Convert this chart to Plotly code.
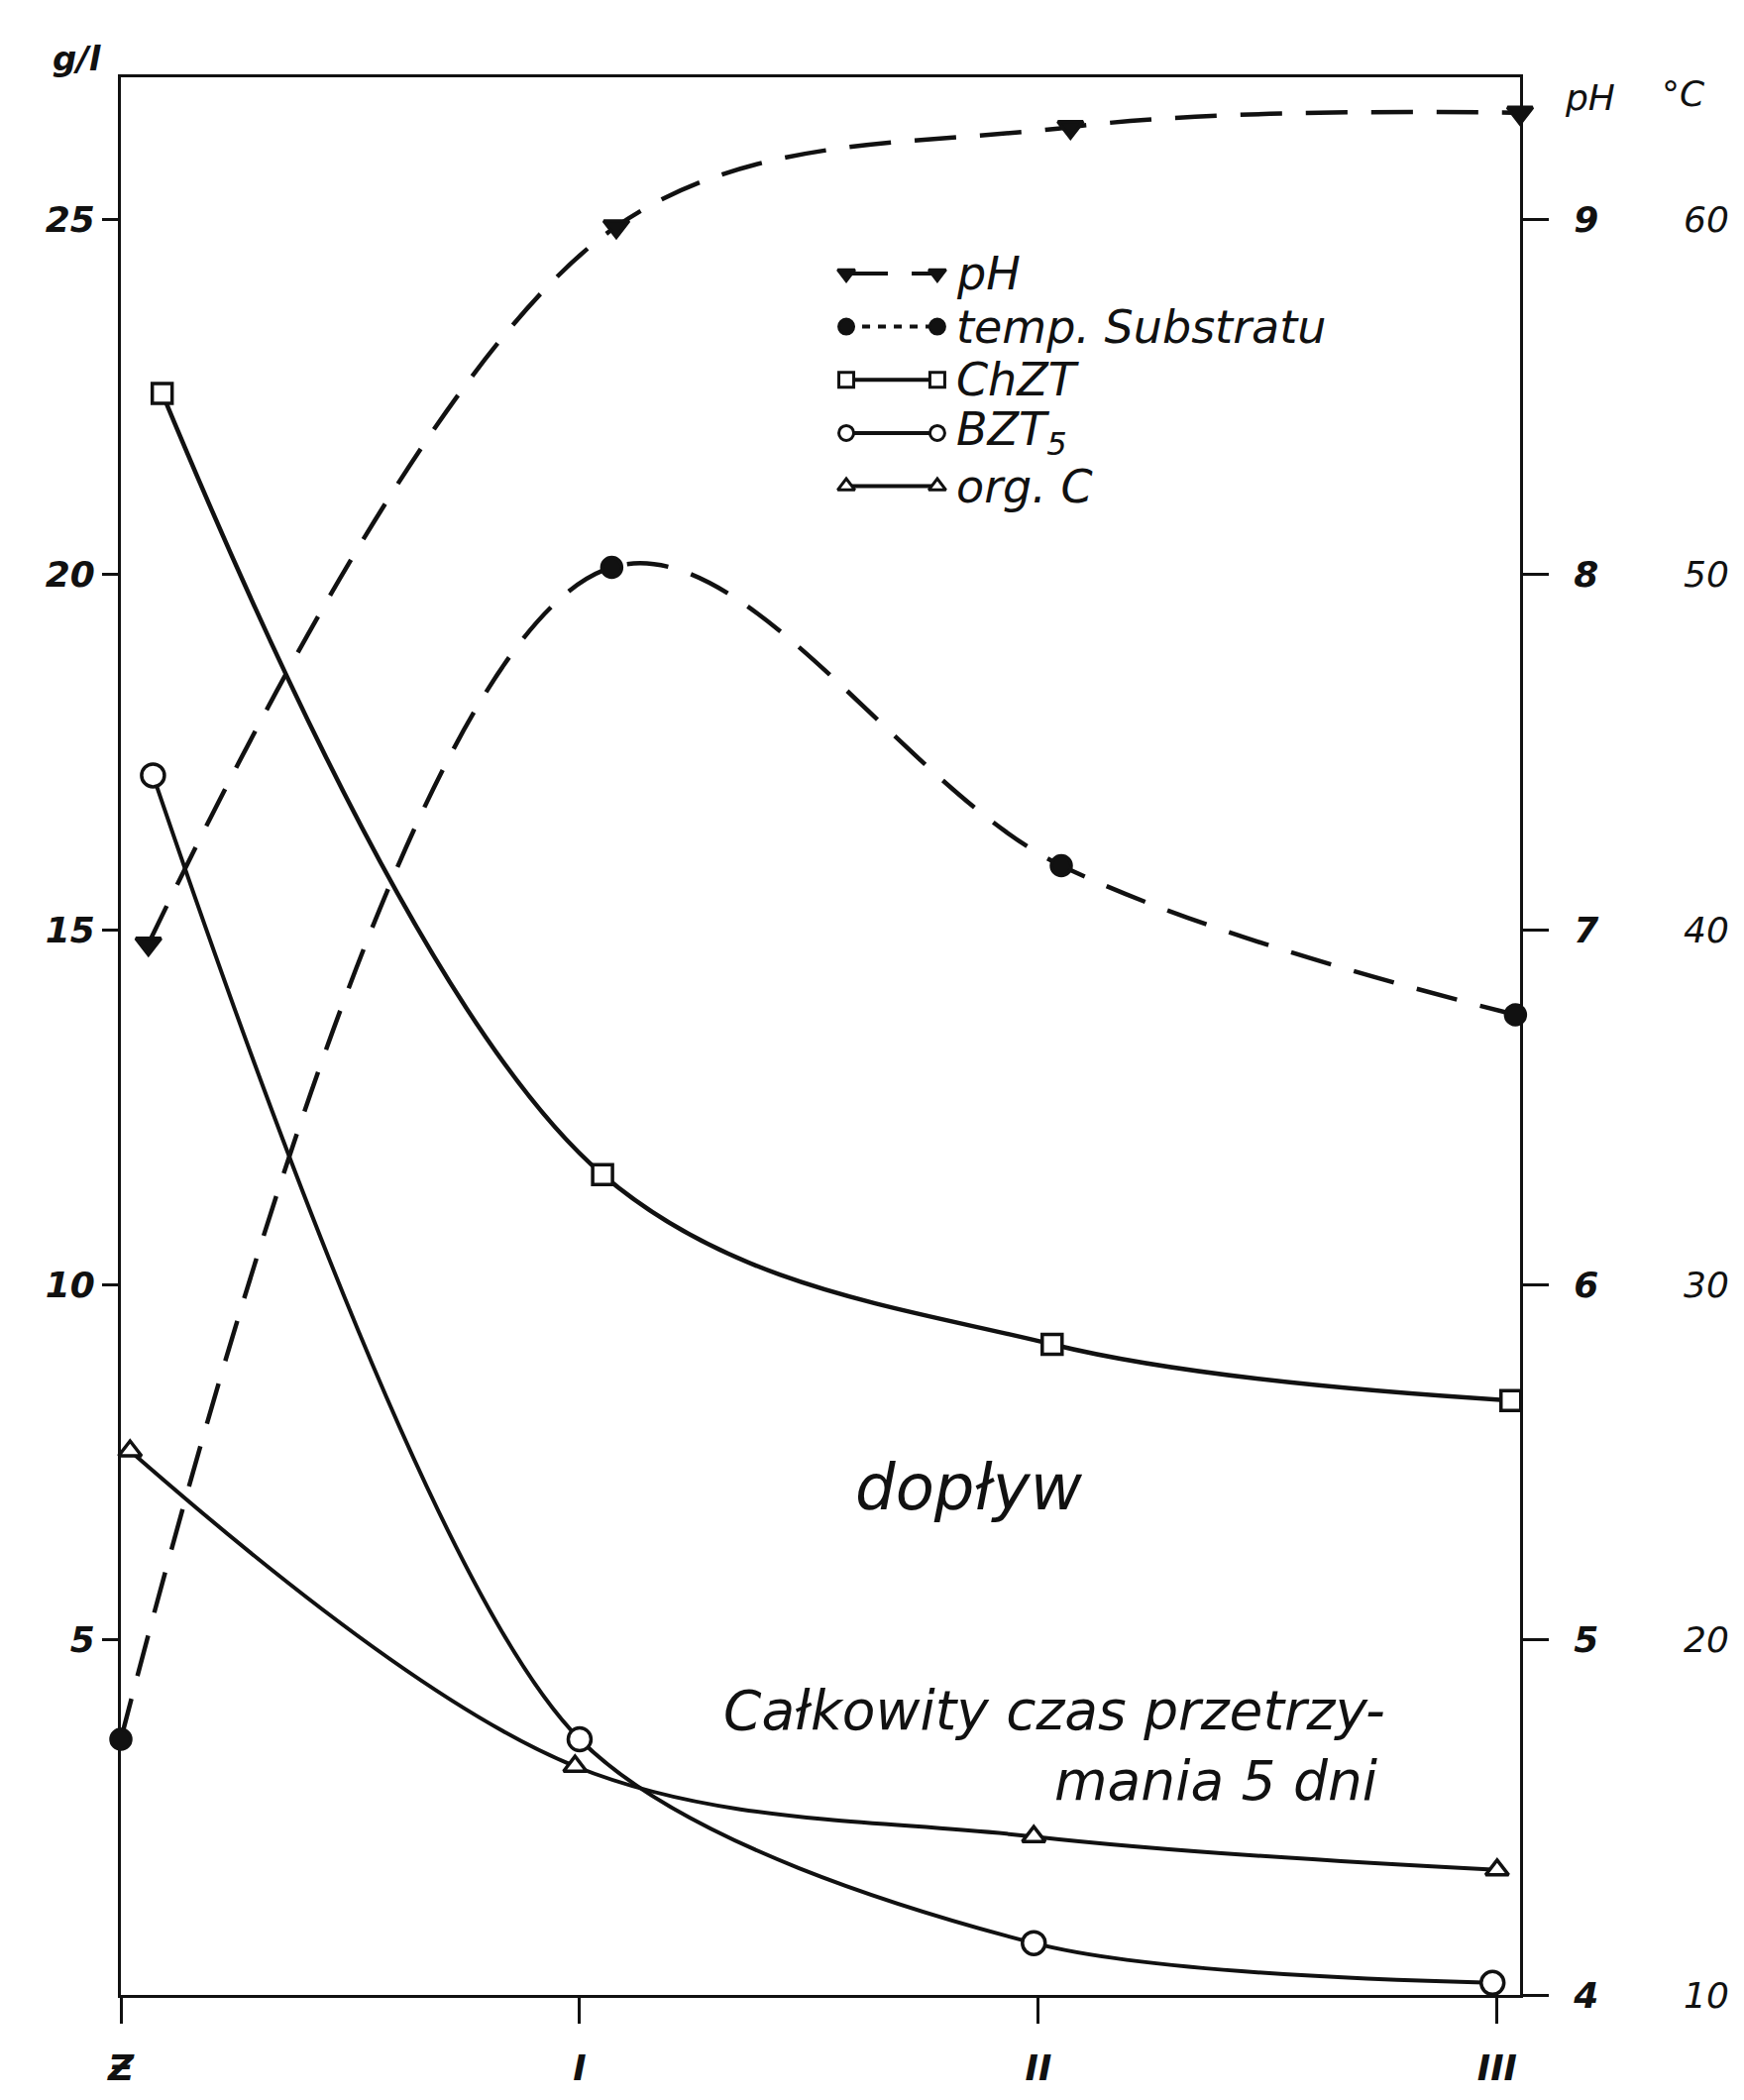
import plotly.graph_objects as go

# ---- data ----
categories = ["Ƶ", "I", "II", "III"]
cat_pos = [0, 1, 2, 3]

ph_x = [0.06, 1.08, 2.07, 3.05]
ph_vals = [6.96, 8.98, 9.26, 9.30]

temp_x = [0.0, 1.07, 2.05, 3.04]
temp_vals = [17.2, 50.2, 41.8, 37.6]

chzt_x = [0.09, 1.05, 2.03, 3.03]
chzt_vals = [22.55, 11.55, 9.16, 8.37]

bzt_x = [0.07, 1.0, 1.99, 2.99]
bzt_vals = [17.17, 3.6, 0.73, 0.17]

orgc_x = [0.02, 0.99, 1.99, 3.0]
orgc_vals = [7.66, 3.22, 2.23, 1.76]

left_ticks = [5, 10, 15, 20, 25]
ph_ticks = [4, 5, 6, 7, 8, 9]
temp_ticks = [10, 20, 30, 40, 50, 60]

legend_names = ["pH", "temp. Substratu", "ChZT", "BZT<sub>5</sub>", "org. C"]

# ---- style ----
INK = "#111111"
FONT = "DejaVu Sans"
DASH = "42px,24px"
W, H = 1760, 2119
L, R_EDGE, T, B = 122, 1698, 78, 2024
PLOT_RIGHT = 1534
xdom = (PLOT_RIGHT - L) / (R_EDGE - L)

fig = go.Figure()

def add_series(x, y, yaxis, symbol, filled, dash, size, lw=4.5, mlw=3.5, smooth=1.0):
    fig.add_trace(go.Scatter(
        x=x, y=y, xaxis="x", yaxis=yaxis, mode="lines+markers",
        line=dict(color=INK, width=lw, dash=dash, shape="spline", smoothing=smooth),
        marker=dict(symbol=symbol, size=size, color=INK if filled else "white",
                    line=dict(color=INK, width=mlw)),
        cliponaxis=False, showlegend=False, hoverinfo="skip"))

add_series(ph_x, ph_vals, "y2", "triangle-down", True, DASH, 22)
add_series(temp_x, temp_vals, "y3", "circle", True, DASH, 20)
add_series(chzt_x, chzt_vals, "y", "square", False, "solid", 20)
add_series(bzt_x, bzt_vals, "y", "circle", False, "solid", 23, lw=4, smooth=0.8)
add_series(orgc_x, orgc_vals, "y", "triangle-up", False, "solid", 20, lw=4)

# ---- hand-drawn style legend (samples on a helper 0..1 subplot) ----
leg_rows = [0.8977, 0.8700, 0.8423, 0.8145, 0.7868]
leg_x0, leg_x1, leg_tx = 0.4645, 0.5228, 0.5336
leg_styles = [("triangle-down", True, DASH), ("circle", True, "8px,8px"),
              ("square", False, "solid"), ("circle", False, "solid"),
              ("triangle-up", False, "solid")]
for (sym, filled, dash), yy, name in zip(leg_styles, leg_rows, legend_names):
    fig.add_trace(go.Scatter(
        x=[leg_x0, leg_x1], y=[yy, yy], xaxis="x2", yaxis="y4", mode="lines+markers",
        line=dict(color=INK, width=4, dash=dash),
        marker=dict(symbol=sym, size=15, color=INK if filled else "white",
                    line=dict(color=INK, width=3)),
        showlegend=False, hoverinfo="skip", cliponaxis=False))
    fig.add_annotation(x=leg_tx, y=yy, xref="x2", yref="y4", text=name, showarrow=False,
                       xanchor="left", yanchor="middle",
                       font=dict(family=FONT, size=46, color=INK, style="italic"))

# ---- text in the chart ----
fig.add_annotation(x=1.85, y=7.15, xref="x", yref="y", text="dopływ", showarrow=False,
                   font=dict(family=FONT, size=64, color=INK, style="italic"))
fig.add_annotation(x=2.76, y=4.0, xref="x", yref="y", text="Całkowity czas przetrzy-",
                   showarrow=False, xanchor="right",
                   font=dict(family=FONT, size=55, color=INK, style="italic"))
fig.add_annotation(x=2.745, y=3.02, xref="x", yref="y", text="mania 5 dni",
                   showarrow=False, xanchor="right",
                   font=dict(family=FONT, size=55, color=INK, style="italic"))

# axis unit labels
fig.add_annotation(x=-0.045, y=1.021, xref="paper", yref="paper", text="g/l", showarrow=False,
                   font=dict(family=FONT, size=34, color=INK, style="italic", weight="bold"))
fig.add_annotation(x=0.958, y=1.001, xref="paper", yref="paper", text="pH", showarrow=False,
                   font=dict(family=FONT, size=36, color=INK, style="italic"))
fig.add_annotation(x=1.016, y=1.003, xref="paper", yref="paper", text="°C", showarrow=False,
                   font=dict(family=FONT, size=36, color=INK, style="italic"))

tickfont_b = dict(family=FONT, size=36, color=INK, style="italic", weight="bold")
tickfont_n = dict(family=FONT, size=36, color=INK, style="italic")

fig.update_layout(
    width=W, height=H,
    margin=dict(l=L, r=W - R_EDGE, t=T, b=H - B),
    paper_bgcolor="white", plot_bgcolor="rgba(0,0,0,0)",
    xaxis=dict(domain=[0, xdom], range=[0, 3.05], tickvals=cat_pos, ticktext=categories,
               showgrid=False, zeroline=False, showline=True, linecolor=INK, linewidth=3,
               mirror=True, ticks="outside", ticklen=26, tickwidth=2.5, tickcolor=INK,
               tickfont=tickfont_b, ticklabelstandoff=14),
    yaxis=dict(range=[0, 27], tickvals=left_ticks, showgrid=False, zeroline=False,
               showline=True, linecolor=INK, linewidth=3, ticks="outside", ticklen=16,
               tickwidth=2.5, tickcolor=INK, tickfont=tickfont_b),
    yaxis2=dict(range=[4, 4 + 27 / 5], overlaying="y", side="right", anchor="x",
                tickvals=ph_ticks, showgrid=False, zeroline=False, showline=True,
                linecolor=INK, linewidth=3, ticks="outside", ticklen=26, tickwidth=2.5,
                tickcolor=INK, tickfont=tickfont_b, ticklabelstandoff=18),
    yaxis3=dict(range=[10, 10 + 27 * 2], overlaying="y", side="right", anchor="free",
                position=1.0, tickvals=temp_ticks, showgrid=False, zeroline=False,
                showline=False, ticks="", tickfont=tickfont_n),
    xaxis2=dict(domain=[0, 1], range=[0, 1], anchor="y4", visible=False),
    yaxis4=dict(domain=[0, 1], range=[0, 1], anchor="x2", visible=False),
)

fig.write_html("out.html")
